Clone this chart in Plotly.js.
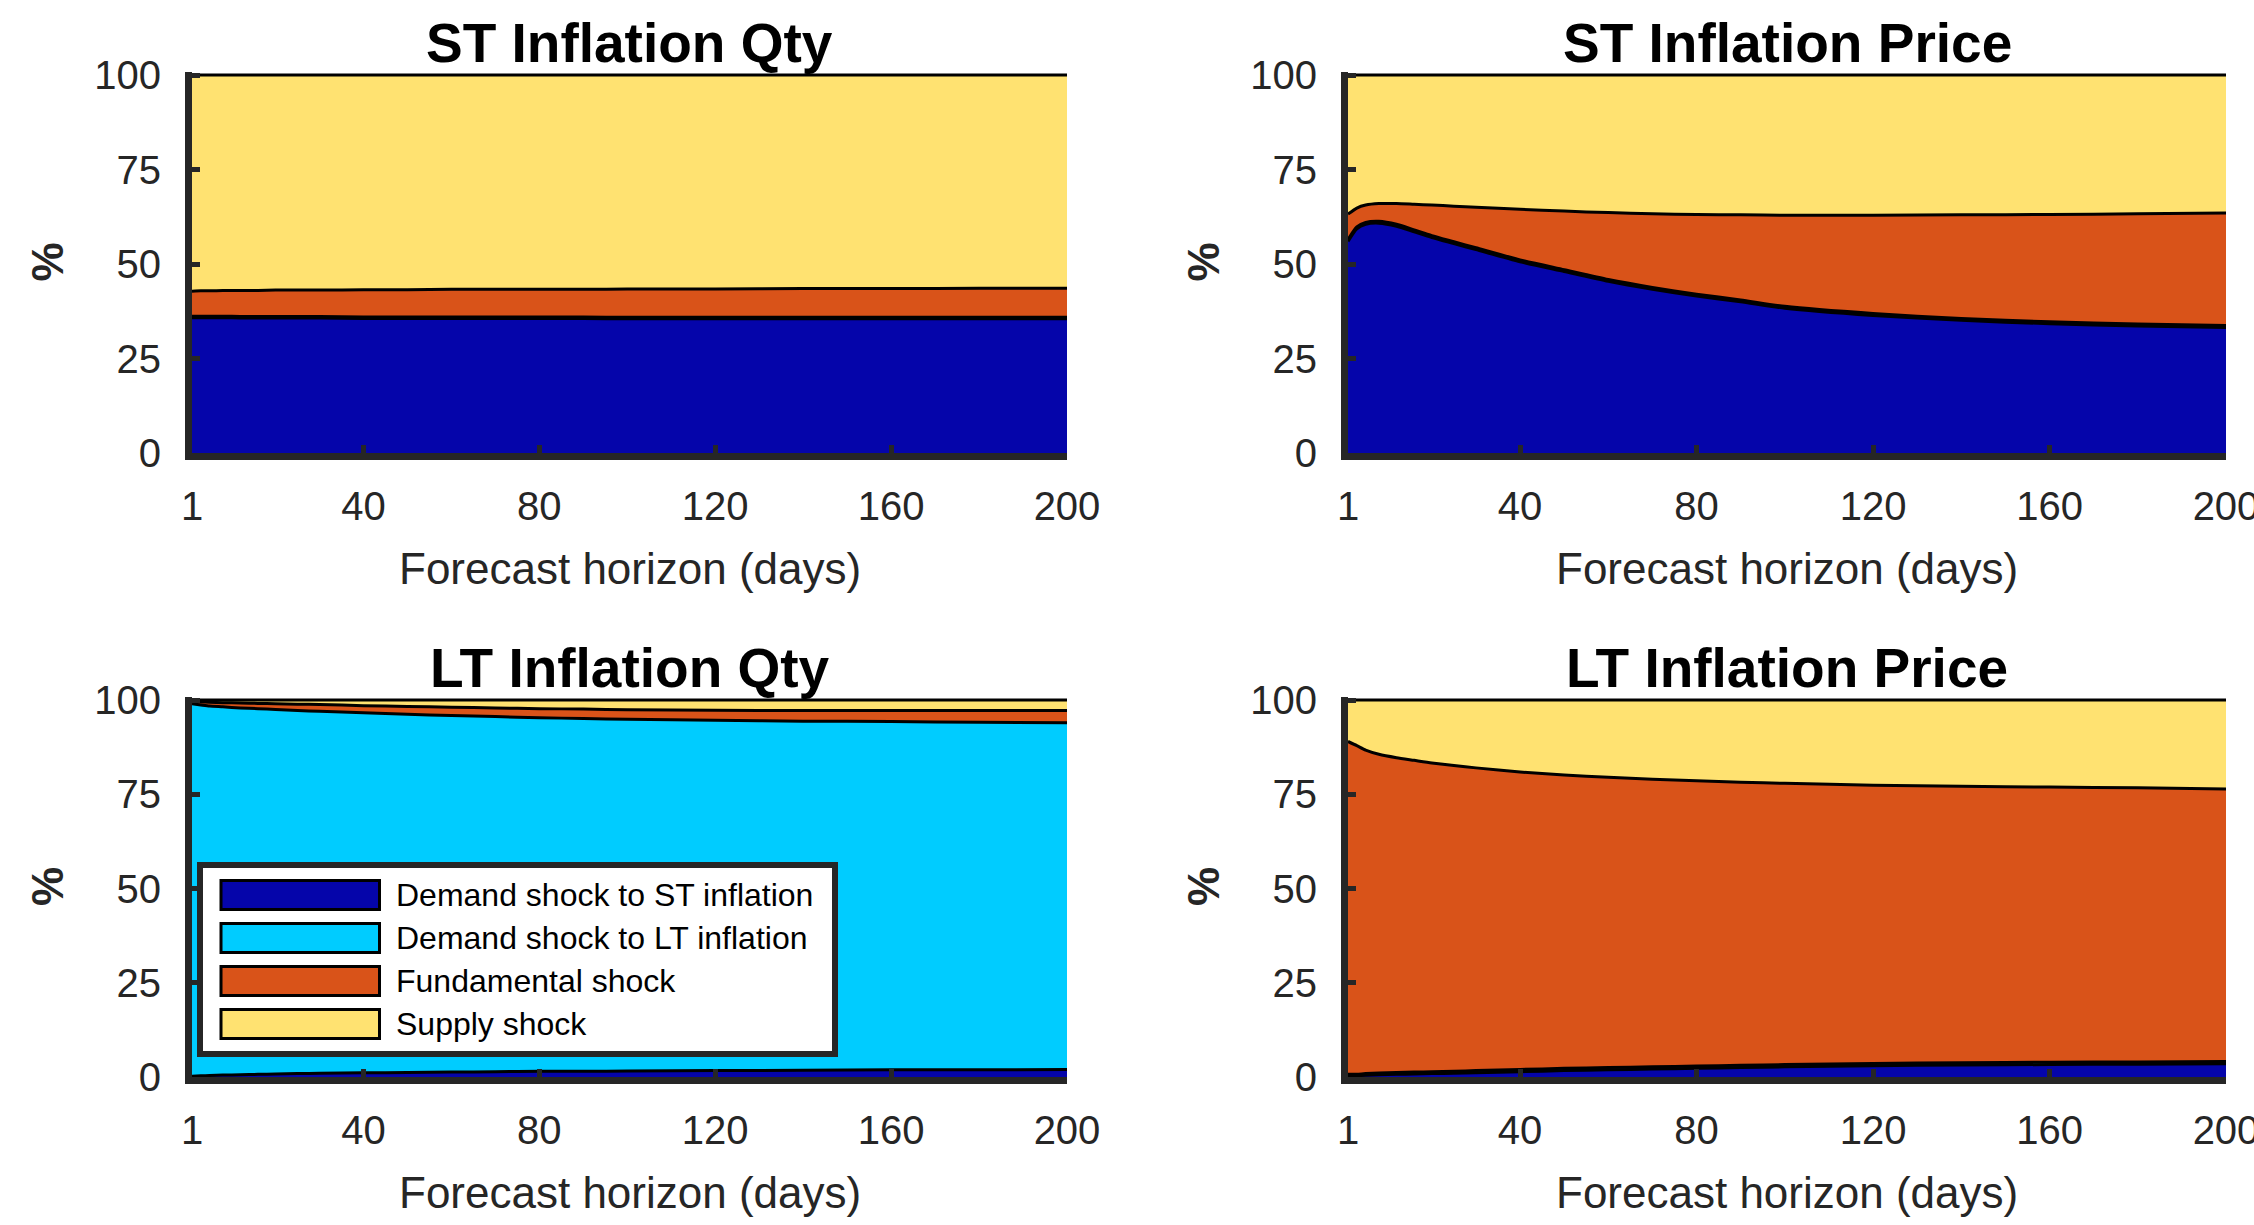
<!DOCTYPE html>
<html>
<head>
<meta charset="utf-8">
<script src="https://cdn.plot.ly/plotly-3.0.1.min.js"></script>
<style>html,body{margin:0;padding:0;background:#fff;}#chart{width:2254px;height:1225px;}</style>
</head>
<body>
<div id="chart"></div>
<script>
// ---------------- DATA ----------------
const horizon = [1, 3, 5, 8, 12, 16, 20, 25, 30, 40, 50, 60, 70, 80, 90, 100, 120, 140, 160, 180, 200];
const seriesNames = ["Demand shock to ST inflation", "Demand shock to LT inflation", "Fundamental shock", "Supply shock"];
const panelTitles = ["ST Inflation Qty", "ST Inflation Price", "LT Inflation Qty", "LT Inflation Price"];
const xTickVals = [1, 40, 80, 120, 160, 200];
const yTickVals = [0, 25, 50, 75, 100];
const xLabel = "Forecast horizon (days)";
const yLabel = "%";

// ST Inflation Qty (% of forecast error variance)
const stQtyDemandST = [35.8,35.8,35.8,35.8,35.7,35.7,35.7,35.7,35.7,35.6,35.6,35.6,35.6,35.6,35.6,35.5,35.5,35.5,35.5,35.5,35.5];
const stQtyDemandLT = [0.4,0.4,0.4,0.4,0.4,0.4,0.4,0.4,0.4,0.4,0.4,0.4,0.4,0.4,0.4,0.4,0.4,0.4,0.4,0.4,0.4];
const stQtyFund     = [6.6,6.7,6.7,6.8,6.9,6.9,7.0,7.0,7.0,7.2,7.2,7.3,7.3,7.3,7.3,7.5,7.5,7.6,7.6,7.7,7.7];
const stQtySupply   = [57.2,57.1,57.1,57.0,57.0,57.0,56.9,56.9,56.9,56.8,56.8,56.7,56.7,56.7,56.7,56.6,56.6,56.5,56.5,56.4,56.4];

// ST Inflation Price
const stPriceDemandST = [56.0,59.3,60.5,60.8,60.0,58.5,57.0,55.4,53.8,50.6,48.0,45.4,43.3,41.5,40.0,38.3,36.4,35.1,34.2,33.6,33.2];
const stPriceDemandLT = [0.5,0.5,0.5,0.5,0.5,0.5,0.5,0.5,0.5,0.5,0.5,0.5,0.5,0.5,0.5,0.5,0.5,0.5,0.5,0.5,0.5];
const stPriceFund     = [6.7,5.0,4.6,4.7,5.5,6.8,8.1,9.4,10.7,13.4,15.5,17.7,19.5,21.1,22.5,24.1,26.0,27.4,28.4,29.2,29.8];
const stPriceSupply   = [36.8,35.2,34.4,34.0,34.0,34.2,34.4,34.7,35.0,35.5,36.0,36.4,36.7,36.9,37.0,37.1,37.1,37.0,36.9,36.7,36.5];

// LT Inflation Qty
const ltQtyDemandST = [0.2,0.3,0.4,0.5,0.6,0.7,0.8,0.9,1.0,1.1,1.2,1.3,1.4,1.5,1.5,1.6,1.7,1.8,1.9,1.9,2.0];
const ltQtyDemandLT = [98.8,98.4,98.0,97.7,97.3,97.0,96.7,96.3,96.0,95.5,95.0,94.6,94.2,93.8,93.6,93.3,92.9,92.6,92.4,92.2,92.0];
const ltQtyFund     = [0.6,0.8,1.0,1.1,1.3,1.4,1.5,1.7,1.8,1.9,2.1,2.2,2.3,2.4,2.5,2.5,2.7,2.8,2.9,3.1,3.2];
const ltQtySupply   = [0.4,0.5,0.6,0.7,0.8,0.9,1.0,1.1,1.2,1.5,1.7,1.9,2.1,2.3,2.4,2.6,2.7,2.8,2.8,2.8,2.8];

// LT Inflation Price
const ltPriceDemandST = [0.3,0.35,0.45,0.6,0.7,0.8,0.9,1.0,1.15,1.4,1.7,1.9,2.1,2.3,2.5,2.7,3.0,3.2,3.3,3.4,3.5];
const ltPriceDemandLT = [0.4,0.4,0.45,0.45,0.5,0.5,0.5,0.5,0.55,0.6,0.6,0.6,0.6,0.6,0.6,0.6,0.6,0.6,0.6,0.6,0.6];
const ltPriceFund     = [88.3,87.15,85.8,84.55,83.5,82.7,81.9,81.1,80.3,78.9,77.8,77.0,76.3,75.7,75.1,74.6,73.8,73.3,73.0,72.7,72.3];
const ltPriceSupply   = [11.0,12.1,13.3,14.4,15.3,16.0,16.7,17.4,18.0,19.1,19.9,20.5,21.0,21.4,21.8,22.1,22.6,22.9,23.1,23.3,23.6];

// ---------------- STYLE ----------------
const W = 2254, H = 1225;
const FONT = "Liberation Sans, Arial, Helvetica, sans-serif";
const AX = "#262626";
const fillColors = ["#0505AA", "#00CCFF", "#D95319", "#FFE271"];
const px = v => v / W;
const py = v => 1 - v / H;

// panel pixel boxes: [left, right, top, bottom]
const boxes = [
  [192, 1067, 72, 453],
  [1348, 2226, 72, 453],
  [192, 1067, 697, 1077],
  [1348, 2226, 697, 1077]
];

const panels = [
  [stQtyDemandST, stQtyDemandLT, stQtyFund, stQtySupply],
  [stPriceDemandST, stPriceDemandLT, stPriceFund, stPriceSupply],
  [ltQtyDemandST, ltQtyDemandLT, ltQtyFund, ltQtySupply],
  [ltPriceDemandST, ltPriceDemandLT, ltPriceFund, ltPriceSupply]
];

const traces = [];
panels.forEach((series, p) => {
  const sfx = p === 0 ? "" : String(p + 1);
  series.forEach((vals, k) => {
    traces.push({
      type: "scatter",
      mode: "lines",
      x: horizon,
      y: vals,
      name: seriesNames[k],
      xaxis: "x" + sfx,
      yaxis: "y" + sfx,
      stackgroup: "g" + p,
      fillcolor: fillColors[k],
      line: {color: "#000000", width: 3, shape: "spline", smoothing: 0.6},
      showlegend: false,
      hoverinfo: "skip"
    });
  });
});

const layout = {
  width: W, height: H,
  margin: {l: 0, r: 0, t: 0, b: 0},
  paper_bgcolor: "#ffffff",
  plot_bgcolor: "#ffffff",
  showlegend: false,
  font: {family: FONT, color: AX},
  annotations: [],
  shapes: []
};

boxes.forEach((b, p) => {
  const sfx = p === 0 ? "" : String(p + 1);
  layout["xaxis" + sfx] = {
    domain: [px(b[0]), px(b[1])],
    anchor: "y" + sfx,
    range: [1, 200],
    tickvals: xTickVals,
    ticktext: xTickVals.map(String),
    ticks: "inside", ticklen: 8, tickwidth: 5, tickcolor: AX,
    showline: true, linewidth: 7, linecolor: AX,
    showgrid: false, zeroline: false,
    tickfont: {family: FONT, size: 40, color: AX},
    ticklabelstandoff: 12,
    ticklabeloverflow: "allow",
    fixedrange: true
  };
  layout["yaxis" + sfx] = {
    domain: [py(b[3]), py(b[2])],
    anchor: "x" + sfx,
    range: [0, 100.8],
    tickvals: yTickVals,
    ticktext: yTickVals.map(String),
    ticks: "inside", ticklen: 8, tickwidth: 5, tickcolor: AX,
    showline: true, linewidth: 7, linecolor: AX,
    showgrid: false, zeroline: false,
    tickfont: {family: FONT, size: 40, color: AX},
    ticklabelstandoff: 16,
    ticklabeloverflow: "allow",
    fixedrange: true
  };
  const cx = (b[0] + b[1]) / 2;
  layout.annotations.push({
    text: "<b>" + panelTitles[p] + "</b>",
    xref: "paper", yref: "paper",
    x: px(cx), y: py(b[2] - 29),
    xanchor: "center", yanchor: "middle",
    showarrow: false,
    font: {family: FONT, size: 55, color: "#000000"}
  });
  layout.annotations.push({
    text: xLabel,
    xref: "paper", yref: "paper",
    x: px(cx), y: py(b[3] + 115),
    xanchor: "center", yanchor: "middle",
    showarrow: false,
    font: {family: FONT, size: 44, color: AX}
  });
  layout.annotations.push({
    text: "<b>" + yLabel + "</b>",
    xref: "paper", yref: "paper",
    x: px(b[0] - 145), y: py((b[2] + b[3]) / 2),
    xanchor: "center", yanchor: "middle",
    textangle: -90,
    showarrow: false,
    font: {family: FONT, size: 44, color: AX}
  });
});

// Legend (drawn inside the LT Inflation Qty panel)
const leg = {x0: 200, x1: 835, y0: 865, y1: 1054, swX0: 221, swX1: 379.5, rowTop: 880.5, rowH: 29, rowStep: 43, textX: 394};
layout.shapes.push({
  type: "rect", xref: "paper", yref: "paper", layer: "above",
  x0: px(leg.x0), x1: px(leg.x1), y0: py(leg.y1), y1: py(leg.y0),
  fillcolor: "#ffffff", line: {color: AX, width: 6}
});
seriesNames.forEach((nm, k) => {
  const top = leg.rowTop + k * leg.rowStep;
  layout.shapes.push({
    type: "rect", xref: "paper", yref: "paper", layer: "above",
    x0: px(leg.swX0), x1: px(leg.swX1), y0: py(top + leg.rowH), y1: py(top),
    fillcolor: fillColors[k], line: {color: "#000000", width: 3}
  });
  layout.annotations.push({
    text: nm,
    xref: "paper", yref: "paper",
    x: px(leg.textX), y: py(top + leg.rowH / 2),
    xanchor: "left", yanchor: "middle",
    showarrow: false,
    font: {family: FONT, size: 32, color: "#000000"}
  });
});

Plotly.newPlot("chart", traces, layout, {staticPlot: true, displayModeBar: false});
</script>
</body>
</html>
